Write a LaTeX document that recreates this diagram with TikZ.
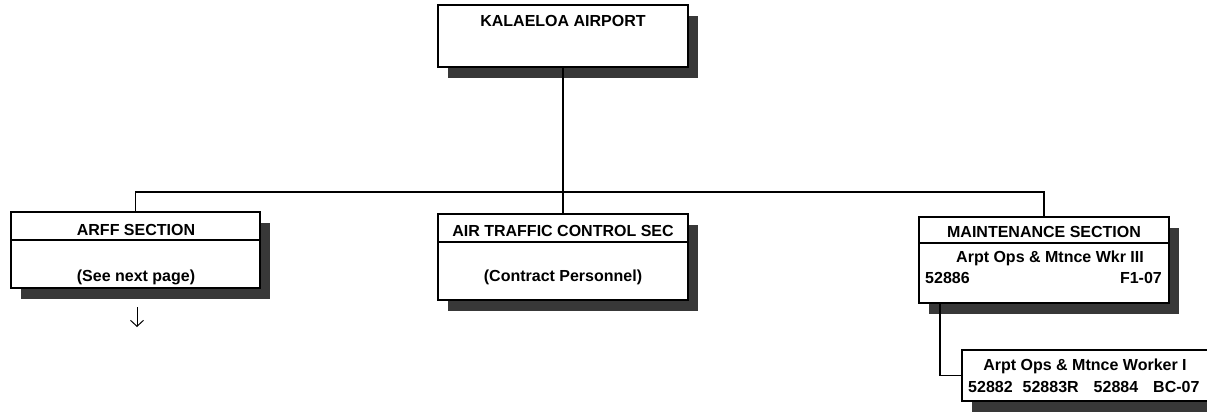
\documentclass[tikz,border=0pt]{standalone}
\usepackage{fontspec}
\setmainfont{Liberation Sans}
\usetikzlibrary{shadows,arrows.meta}
\begin{document}
\begin{tikzpicture}[x=1pt,y=-1pt,
  orgbox/.style={draw, line width=1.5pt, fill=white, inner sep=0pt,
    drop shadow={shadow xshift=10pt, shadow yshift=-11pt, fill=black!78, opacity=1}},
  hdrbox/.style={draw, line width=1.5pt, fill=white, inner sep=0pt, anchor=north},
  lbl/.style={font=\bfseries\fontsize{16}{19}\selectfont, inner sep=0pt, anchor=base},
  wire/.style={line width=1.4pt}]
\useasboundingbox (0,0) rectangle (1207,412);
% top
\node[orgbox, minimum width=250pt, minimum height=62pt] (kal) at (563,36){};
\node[lbl] (kalt) at (563,27){KALAELOA AIRPORT};
% sections
\node[orgbox, minimum width=249pt, minimum height=76pt] (arff) at (135.5,250){};
\node[hdrbox, minimum width=249pt, minimum height=28pt] (arffh) at (arff.north){};
\node[lbl] (arfft) at (136,235){ARFF SECTION};
\node[lbl] (arffn) at (136,281){(See next page)};
\node[orgbox, minimum width=250pt, minimum height=86pt] (atc) at (563,257){};
\node[hdrbox, minimum width=250pt, minimum height=28pt] (atch) at (atc.north){};
\node[lbl] (atct) at (563,236){AIR TRAFFIC CONTROL SEC};
\node[lbl] (atcn) at (563,281.5){(Contract Personnel)};
\node[orgbox, minimum width=250pt, minimum height=86pt] (mnt) at (1044,260){};
\node[hdrbox, minimum width=250pt, minimum height=26pt] (mnth) at (mnt.north){};
\node[lbl] (mntt) at (1044,237){MAINTENANCE SECTION};
\node[lbl] (mntp) at (1050,262){Arpt Ops \& Mtnce Wkr III};
\node[lbl, anchor=base west] (mntn) at (925,283){52886};
\node[lbl, anchor=base east] (mntg) at (1162,283){F1-07};
% worker
\node[orgbox, minimum width=246pt, minimum height=51pt] (wrk) at (1085,375.5){};
\node[lbl] (wrkp) at (1085,370){Arpt Ops \& Mtnce Worker I};
\node[lbl, anchor=base west] (wrkn) at (968,392){52882\hspace{10pt}52883R\hspace{15pt}52884\hspace{15pt}BC-07};
% lines
\coordinate (bus) at (563,192);
\coordinate (mntb) at (940,303);
\coordinate (pg0) at (137,307);
\coordinate (pg1) at (137,327);
\draw[wire](kal.south) -- (atc.north);
\draw[wire](arff.north) |- (bus) -| (mnt.north);
\draw[wire](mntb) |- (wrk.west);
\draw[line width=1pt, -{Straight Barb[length=6pt,width=13pt]}](pg0) -- (pg1);
\end{tikzpicture}
\end{document}
